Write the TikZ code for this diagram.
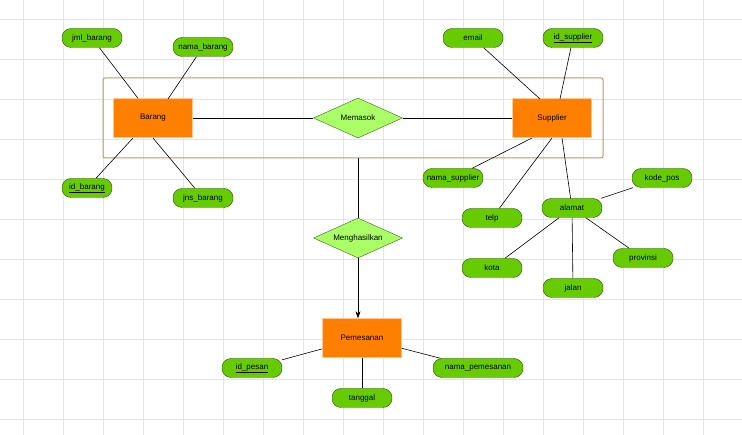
\documentclass[tikz,border=0pt]{standalone}
\usepackage{fontspec}
\setmainfont{Liberation Sans}
\usetikzlibrary{shapes.geometric,arrows.meta}
\begin{document}
\begin{tikzpicture}[x=1pt,y=-1pt,
 ent/.style={fill={rgb,255:red,255;green,128;blue,0},draw={rgb,255:red,255;green,200;blue,150},minimum width=79pt,minimum height=39pt,inner sep=0pt,font=\fontsize{8}{9}\selectfont},
 rel/.style={diamond,aspect=2.25,fill={rgb,255:red,170;green,255;blue,102},draw={rgb,255:red,60;green,100;blue,30},minimum width=89pt,minimum height=40pt,inner sep=0pt,font=\fontsize{8}{9}\selectfont},
 att/.style={rounded corners=9pt,fill={rgb,255:red,102;green,204;blue,0},draw={rgb,255:red,40;green,80;blue,20},minimum width=60pt,minimum height=19pt,inner sep=1pt,font=\fontsize{8}{9}\selectfont},
 ln/.style={draw=black,line width=0.6pt}]
\useasboundingbox (0,0) rectangle (742,435);
\fill[white] (0,0) rectangle (742,435);
\foreach \x in {23,63,...,742} \draw[black!10,line width=0.6pt] (\x,0) -- (\x,435);
\foreach \y in {19,59,...,435} \draw[black!10,line width=0.6pt] (0,\y) -- (742,\y);
\node[draw={rgb,255:red,200;green,150;blue,100},rounded corners=2pt,line width=1pt,minimum width=500pt,minimum height=80pt,inner sep=0pt] (agg) at (353,118) {};
\node[ent] (barang) at (153,118) {Barang};
\node[ent] (supplier) at (552,118) {Supplier};
\node[ent] (pemesanan) at (362,338) {Pemesanan};
\node[rel] (memasok) at (358,118) {Memasok};
\node[rel] (menghasilkan) at (358,238) {Menghasilkan};
\node[att] (jml) at (92,38) {jml\_barang};
\node[att] (nama) at (203,47) {nama\_barang};
\node[att,minimum width=50pt] (idb) at (87,188) {\underline{id\_barang}};
\node[att] (jns) at (203,198) {jns\_barang};
\node[att] (email) at (473,38) {email};
\node[att] (ids) at (573,38) {\underline{id\_supplier}};
\node[att] (nsup) at (453,178) {nama\_supplier};
\node[att] (telp) at (492,218) {telp};
\node[att] (alamat) at (572,208) {alamat};
\node[att] (kpos) at (662,178) {kode\_pos};
\node[att] (kota) at (492,268) {kota};
\node[att] (prov) at (643,258) {provinsi};
\node[att] (jalan) at (573,288) {jalan};
\node[att] (idp) at (252,368) {\underline{id\_pesan}};
\node[att] (tgl) at (362,398) {tanggal};
\node[att,minimum width=90pt] (npem) at (478,368) {nama\_pemesanan};
\begin{scope}[ln]
\draw (jml) -- (barang.north west -| 138,99);
\draw (nama) -- (168,99);
\draw (idb) -- (133,138);
\draw (jns) -- (153,138);
\draw (barang) -- (memasok);
\draw (memasok) -- (supplier);
\draw (email) -- (540,99);
\draw (ids) -- (560,99);
\draw (nsup) -- (532,138);
\draw (telp) -- (552,138);
\draw (alamat) -- (562,138);
\draw (alamat) -- (kpos);
\draw (alamat) -- (kota);
\draw (alamat) -- (jalan);
\draw (alamat) -- (prov);
\draw (agg.south -| menghasilkan) -- (menghasilkan.north);
\draw[-{Stealth[length=7pt,width=5pt]}] (menghasilkan.south) -- (pemesanan.north -| menghasilkan);
\draw (pemesanan) -- (idp);
\draw (pemesanan) -- (tgl);
\draw (pemesanan) -- (npem);
\end{scope}
\end{tikzpicture}
\end{document}
